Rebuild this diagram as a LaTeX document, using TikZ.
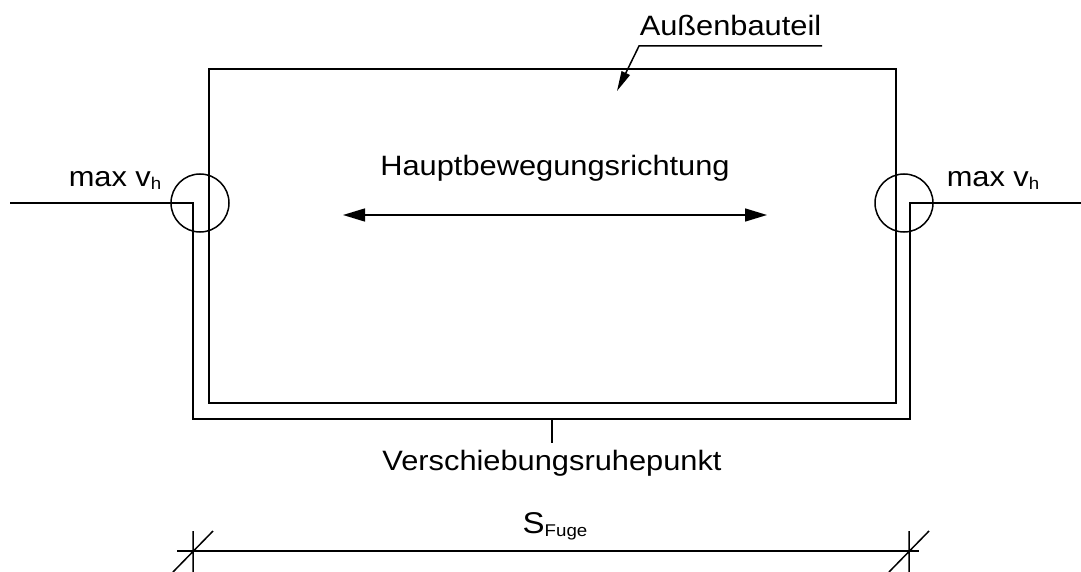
\documentclass[tikz,border=0pt]{standalone}
\usepackage{fontspec}
\setmainfont{Liberation Sans}[FakeStretch=1.1]
\usetikzlibrary{arrows.meta}

\newcommand{\sub}[1]{\raisebox{-3pt}{\fontsize{17}{17}\selectfont #1}}

\begin{document}
\begin{tikzpicture}[x=1pt,y=-1pt,line width=1.5pt,
	every node/.style={font=\fontsize{28}{30}\selectfont,inner sep=0pt}]
			\useasboundingbox (0,0) rectangle (1081,572);
			\path
			(209,69) coordinate (A)
			(896,69) coordinate (B)
			(896,403) coordinate (C)
			(209,403) coordinate (D)
			(10,203) coordinate (E)
			(193,203) coordinate (F)
			(193,419) coordinate (G)
			(910,419) coordinate (H)
			(910,203) coordinate (I)
			(1081,203) coordinate (J)
			(552,419) coordinate (M)
			(617,91) coordinate (T)
			(343,215) coordinate (L)
			(767,215) coordinate (R)
			(193,551) coordinate (P)
			(909,551) coordinate (Q)
			;
			\draw (A)--(B)--(C)--(D)--cycle (E)--(F)--(G)--(H)--(I)--(J);
			\draw (200,203) circle [radius=29pt] (904,203) circle [radius=29pt];
			\draw[{Triangle[length=22pt,width=13pt]}-{Triangle[length=22pt,width=13pt]}] (L)--(R);
			\node[anchor=base] (haupt) at (555,176) {Hauptbewegungsrichtung};
			\node[anchor=base west] (aussen) at (639,36) {Außenbauteil};
			\draw[-{Triangle[length=20pt,width=9pt]}] ([yshift=-10pt]aussen.base east) -- ([yshift=-10pt]aussen.base west) -- (T);
			\node[anchor=base west] (vl) at (68,186) {max v\sub{h}};
			\node[anchor=base west] (vr) at (946,186) {max v\sub{h}};
			\node[anchor=base] (ruhe) at (552,470) {Verschiebungsruhepunkt};
			\draw (M) -- ([yshift=6pt]ruhe.north);
			\node[anchor=base] (fuge) at (555,533) {\fontsize{30}{30}\selectfont S\sub{Fuge}};
			\draw ([xshift=-16pt]P) -- ([xshift=10pt]Q);
			\foreach \x in {P,Q} \draw ([yshift=20pt]\x) -- ([yshift=-22pt]\x) ([shift={(-20pt,-21pt)}]\x) -- ([shift={(20pt,20pt)}]\x);
		\end{tikzpicture}
\end{document}
